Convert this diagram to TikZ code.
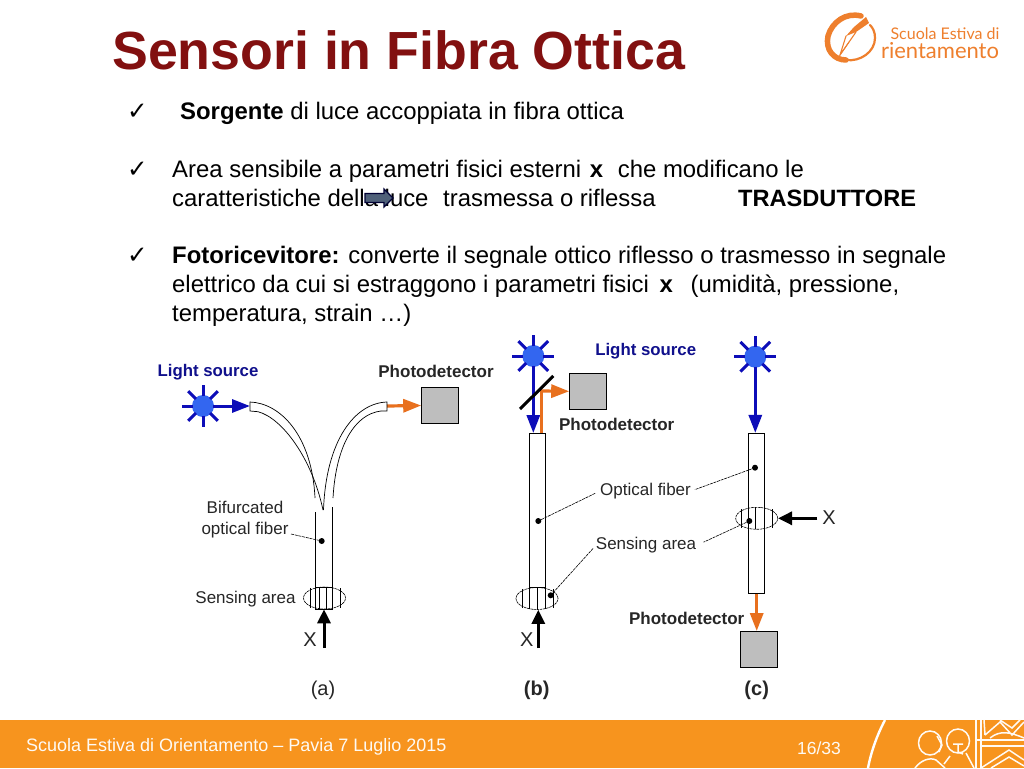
\documentclass[tikz,border=0pt]{standalone}
\usepackage{fontspec}
\setmainfont{Liberation Sans}
\newfontfamily\ckfont{DejaVu Sans}
\newfontfamily\logofont{Lato}
\usetikzlibrary{arrows.meta,shapes.geometric}
\definecolor{titlered}{HTML}{821010}
\definecolor{band}{HTML}{F7941E}
\definecolor{logoor}{HTML}{EE7F2D}
\definecolor{lblue}{HTML}{0D0DB8}
\definecolor{sunfill}{HTML}{3366F0}
\definecolor{lorange}{HTML}{E8701E}
\definecolor{pdgray}{HTML}{BEBEBE}
\definecolor{navy}{HTML}{10108C}
\definecolor{slate}{HTML}{4F6079}
\tikzset{
 x=1pt,y=-1pt,
 body/.style={anchor=base west,inner sep=0pt,font=\fontsize{23.9}{28}\selectfont},
 ck/.style={anchor=base west,inner sep=0pt,font=\ckfont\fontsize{24.5}{28}\selectfont},
 lab/.style={inner sep=0pt,font=\fontsize{17}{20}\selectfont,text=black!85},
 blab/.style={inner sep=0pt,font=\bfseries\fontsize{17}{20}\selectfont,text=black!85},
 srclab/.style={inner sep=0pt,font=\bfseries\fontsize{16.8}{19}\selectfont,text=navy},
 caplab/.style={inner sep=0pt,font=\fontsize{20}{24}\selectfont,text=black!85},
 bcaplab/.style={inner sep=0pt,font=\bfseries\fontsize{20}{24}\selectfont,text=black!85},
 xlab/.style={inner sep=0pt,font=\fontsize{20}{22}\selectfont,text=black!85},
 pdbox/.style={draw=black,line width=.6pt,fill=pdgray,minimum width=37pt,minimum height=36pt,inner sep=0pt},
 sun/.style={circle,fill=sunfill,minimum size=22pt,inner sep=0pt},
 ray/.style={draw=lblue,line width=3pt},
 bluearr/.style={draw=lblue,line width=3pt,-{Triangle[length=18pt,width=13pt]}},
 orarr/.style={draw=lorange,line width=3.2pt,-{Triangle[length=18pt,width=13pt]}},
 blkarr/.style={draw=black,line width=3pt,-{Triangle[length=14pt,width=13pt]}},
 fibre/.style={draw=black,line width=.8pt,fill=white,minimum width=16pt,inner sep=0pt},
 sens/.style={ellipse,draw=black,line width=.6pt,dash pattern=on 2.5pt off .7pt,minimum width=42pt,minimum height=22pt,inner sep=0pt},
 thinl/.style={draw=black,line width=.7pt},
 leader/.style={draw=black,line width=.6pt,dash pattern=on 3pt off .8pt},
 fdot/.style={circle,fill=black,minimum size=6pt,inner sep=0pt},
 orn/.style={draw=white!95!band,line width=1.5pt},
 lg/.style={draw=logoor,line cap=round},
}
\newcommand{\sunrays}[1]{%
 \foreach \a in {0,45,...,315}{\draw[ray] (#1)++(\a:10)--++(\a:11);}}
\begin{document}
\begin{tikzpicture}
\useasboundingbox (0,0) rectangle (1024,768);
\fill[white] (0,0) rectangle (1024,768);
% footer
\fill[band] (0,720) rectangle (1024,768);
\draw[white,line width=2.4pt] (885,720) .. controls (877,735) and (871,752) .. (868,768);
\node[anchor=base west,inner sep=0pt,text=white!95!band,font=\fontsize{18}{20}\selectfont] (foot) at (26,751) {Scuola Estiva di Orientamento – Pavia 7 Luglio 2015};
\node[anchor=base,inner sep=0pt,text=white!95!band,font=\fontsize{17.5}{20}\selectfont] (pg) at (819,754) {16/33};
% footer ornament
\draw[orn] (930,743) circle (11.5 and 12);
\draw[orn] (958,741) circle (11.5 and 12);
\draw[orn] (937,736) -- (942,745) -- (939,752);
\draw[orn] (953,744) -- (963,744) (958,744) -- (958,752) -- (963,754);
\draw[orn] (915,768) .. controls (921,760) and (930,757) .. (936,760) -- (945,768);
\draw[orn] (944,764) -- (950,756) (966,753) -- (974,768);
\draw[orn] (976,720)--(976,768) (981,720)--(981,768) (976,740)--(1024,740) (981,746)--(1024,746);
\draw[orn] (981,768)--(1009,750)--(1024,760) (991,768)--(1009,757)--(1024,766);
\draw[orn] (984,720)--(985,735) (985,735)--(1000,722)--(1012,735)--(1024,722) (990,738) .. controls (1000,730) and (1010,732) .. (1024,738) (1000,720)--(1012,728)--(1020,720);
% title
\node[anchor=base west,inner sep=0pt,text=titlered,font=\bfseries\fontsize{53.7}{60}\selectfont] (title) at (112,70) {Sensori in Fibra Ottica};
% logo
\draw[lg,line width=5.5pt] (861,16) .. controls (846,12) and (832,22) .. (828,36) .. controls (825,50) and (834,60) .. (846,60);
\draw[lg,line width=2.2pt] (846,60) .. controls (860,62) and (875,52) .. (875,38) .. controls (875,32) and (873,28) .. (870,25);
\fill[logoor] (866,17) -- (869,23) -- (856,32) -- (846,36) -- (854,27) -- cycle;
\draw[lg,line width=1.1pt] (846,36) -- (840,55) -- (856,32);
\draw[lg,line width=.8pt] (840,55) -- (849,42);
\node[anchor=base,inner sep=0pt,text=logoor,font=\logofont\fontsize{16}{18}\selectfont] (lg1) at (945,40) {Scuola Estiva di};
\node[anchor=base,inner sep=0pt,text=logoor,font=\logofont\fontsize{22}{24}\selectfont] (lg2) at (940,59) {rientamento};
% body text
\node[ck] (c1) at (127,119) {✓};
\node[ck] (c2) at (127,177) {✓};
\node[ck] (c3) at (127,263) {✓};
\node[body] (t1) at (180,119) {\textbf{Sorgente} di luce accoppiata in fibra ottica};
\node[body] (t2) at (172,177) {Area sensibile a parametri fisici esterni\hspace{2pt} \textbf{x}\hspace{8pt} che modificano le};
\node[body] (t3) at (172,206) {caratteristiche della luce\hspace{8pt} trasmessa o riflessa};
\node[body,font=\bfseries\fontsize{23.6}{28}\selectfont] (t3b) at (738,206) {TRASDUTTORE};
\node[body] (t4) at (172,263) {\textbf{Fotoricevitore:} converte il segnale ottico riflesso o trasmesso in segnale};
\node[body] (t5) at (172,292) {elettrico da cui si estraggono i parametri fisici\hspace{4pt} \textbf{x}\hspace{11pt} (umidità, pressione,};
\node[body] (t6) at (172,321) {temperatura, strain …)};
% block arrow over text
\draw[fill=slate,draw=black!80!blue,line width=1.2pt] (365,193.5)--(384,193.5)--(384,189)--(393,198)--(384,207)--(384,202.5)--(365,202.5)--cycle;
%
% PANEL (a)
\node[srclab] (lsa) at (208,372) {Light source};
\node[blab] (pda) at (436,371) {Photodetector};
\node[pdbox] (boxa) at (440,405.5) {};
\node[sun] (suna) at (203,406) {};
\sunrays{suna}
\coordinate (fla) at (250,406);
\coordinate (fra) at (387,406);
\draw[bluearr] (suna) -- (fla);
\draw[orarr] (fra) -- (boxa.west);
\draw[thinl] (258,411.7) -- (250,411) -- (250,402) .. controls (280,403) and (312,435) .. (315,498);
\draw[thinl] (258,411.7) .. controls (282,418) and (312,458) .. (323,510);
\draw[thinl] (381,411) -- (387,411) -- (387,402) .. controls (355,403) and (326,440) .. (323.5,510);
\draw[thinl] (381,411) .. controls (355,414) and (336,445) .. (333,498);
\draw[thinl] (315.3,512) -- (315.3,609) (332.7,507) -- (332.7,609);
\node[sens] (sa) at (324.5,598) {};
\draw[thinl] (315.3,587)--(332.7,587) (319.3,587) -- (319.3,609) (326,587) -- (326,609) (310,588)--(310,608) (340,588)--(340,608) (315.3,609)--(332.7,609);
\coordinate (xa) at (324,648);
\draw[blkarr] (xa) -- (xa |- sa.south);
\node[xlab] (xla) at (310,640) {X};
\node[lab,align=center] (bif) at (245,519.5) {Bifurcated\\[1pt]optical fiber};
\node[fdot] (da) at (321.7,541) {};
\draw[leader] (291,534) -- (da);
\node[lab] (saa) at (245.5,599.5) {Sensing area};
\node[caplab] (capa) at (323,690) {(a)};
%
% PANEL (b)
\node[fibre,minimum height=154pt] (fb) at (537.3,510) {};
\node[sens] (sb) at (537,598.5) {};
\draw[thinl] (529.3,587)--(529.3,609) (537.5,587)--(537.5,609) (545.3,587)--(545.3,609) (522,589)--(522,608) (553,589)--(553,608);
\node[sun] (sunb) at (533.3,356) {};
\sunrays{sunb}
\coordinate (fbt) at (533.3,433);
\draw[bluearr] (sunb) -- (fbt);
\node[pdbox] (boxb) at (588,391.3) {};
\coordinate (fbo) at (541.7,433);
\coordinate (fbc) at (541.7,391);
\draw[draw=lorange,line width=3.2pt] (fbo) -- (fbc);
\draw[orarr] (540.1,391) -- (boxb.west);
\coordinate (m1) at (520,409);
\coordinate (m2) at (553.3,376);
\draw[black,line width=3pt] (m1) -- (m2);
\node[srclab] (lsb) at (645.7,351) {Light source};
\node[blab] (pdb) at (616.7,424.5) {Photodetector};
\coordinate (xb) at (538.3,648);
\draw[blkarr] (xb) -- (xb |- sb.south);
\node[xlab] (xlb) at (526.7,640) {X};
\node[bcaplab] (capb) at (536.7,690.7) {(b)};
%
% PANEL (c)
\node[fibre,minimum height=160pt] (fc) at (756.7,513.3) {};
\node[sens] (sc) at (756.7,518.3) {};
\draw[thinl] (748.7,507)--(748.7,529) (755,507)--(755,529) (764.7,507)--(764.7,529) (741,509)--(741,528) (772,509)--(772,528);
\node[sun] (sunc) at (755.3,356.7) {};
\sunrays{sunc}
\draw[bluearr] (sunc) -- (fc.north -| sunc);
\node[pdbox] (boxc) at (759,649.3) {};
\draw[orarr] (fc.south) -- (fc.south |- boxc.north);
\coordinate (xc) at (817.3,518.3);
\draw[blkarr] (xc) -- (sc.east);
\node[xlab] (xlc) at (829,518) {X};
\node[blab] (pdc) at (686.7,618.3) {Photodetector};
\node[bcaplab] (capc) at (756.7,690.7) {(c)};
% shared labels and leaders
\node[lab] (ofl) at (645.5,491) {Optical fiber};
\node[lab] (ssl) at (646,545.5) {Sensing area};
\node[fdot] (d1) at (538.3,521) {};
\node[fdot] (d2) at (755,467.7) {};
\node[fdot] (d3) at (550.7,595.3) {};
\node[fdot] (d4) at (749.3,521) {};
\draw[leader,shorten >=5pt] (d1) -- (ofl.west);
\draw[leader,shorten >=4pt] (d2) -- (ofl.east);
\draw[leader,shorten >=4pt] (d3) -- (ssl.west);
\draw[leader,shorten >=8pt] (d4) -- (ssl.east);
\end{tikzpicture}
\end{document}
